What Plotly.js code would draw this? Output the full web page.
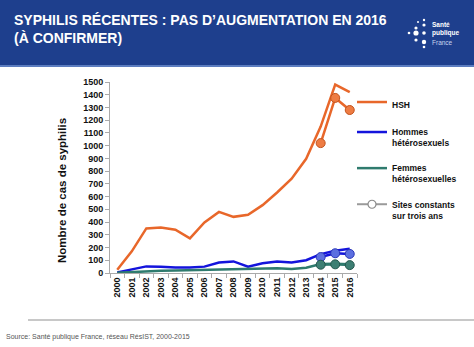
<!DOCTYPE html>
<html>
<head>
<meta charset="utf-8">
<script src="https://cdn.plot.ly/plotly-3.0.1.min.js"></script>
<style>html,body{margin:0;padding:0;background:#fff;}#chart{width:474px;height:347px;}</style>
</head>
<body>
<div id="chart"></div>
<script>
const years = ['2000','2001','2002','2003','2004','2005','2006','2007','2008','2009','2010','2011','2012','2013','2014','2015','2016'];
const hsh = [25,170,350,358,340,272,397,480,441,457,533,632,740,897,1150,1480,1420];
const hommes = [5,30,52,50,44,44,50,83,91,50,76,91,83,100,148,175,190];
const femmes = [2,8,15,17,20,22,26,30,30,30,35,38,32,42,70,72,68];
const constYears = ['2014','2015','2016'];
const hshConst = [1020,1375,1280];
const hommesConst = [125,155,150];
const femmesConst = [65,68,62];
const yTicks = [0,100,200,300,400,500,600,700,800,900,1000,1100,1200,1300,1400,1500];

const FONT = 'Arial, "Liberation Sans", Helvetica, sans-serif';
const L = 110, R = 357, T = 82, B = 273;
const px = x => (x - L) / (R - L);
const py = y => (B - y) / (B - T);

const traces = [
  {x: years, y: hsh, name: 'HSH', legendgroup: 'a', mode: 'lines',
   line: {color: '#E8672A', width: 2.5}},
  {x: constYears, y: hshConst, legendgroup: 'a', showlegend: false, mode: 'lines+markers',
   line: {color: '#E8672A', width: 2.5},
   marker: {size: 9, color: '#EE7C43', line: {color: '#C4531C', width: 1}}},
  {x: years, y: hommes, name: 'Hommes<br>hétérosexuels', legendgroup: 'b', mode: 'lines',
   line: {color: '#1414DC', width: 2.5}},
  {x: constYears, y: hommesConst, legendgroup: 'b', showlegend: false, mode: 'lines+markers',
   line: {color: '#1414DC', width: 2.5},
   marker: {size: 9, color: '#5C6FE0', line: {color: '#2A36B8', width: 1}}},
  {x: years, y: femmes, name: 'Femmes<br>hétérosexuelles', legendgroup: 'c', mode: 'lines',
   line: {color: '#2F7B6E', width: 2.5}},
  {x: constYears, y: femmesConst, legendgroup: 'c', showlegend: false, mode: 'lines+markers',
   line: {color: '#2F7B6E', width: 2.5},
   marker: {size: 9, color: '#3D7F73', line: {color: '#24574E', width: 1}}},
  {x: [null], y: [null], name: 'Sites constants<br>sur trois ans', legendgroup: 'd', mode: 'lines+markers',
   line: {color: '#9A9A9A', width: 2},
   marker: {size: 8, color: '#ffffff', line: {color: '#8A8A8A', width: 1.2}}}
];

const dots = [[424,20,1.2],[424,25,1.6],[416,28,1.6],[409,33,1.3],[416,33,2.6],[424,33,1.8],[416,40,1.6],[424,42,2.2],[424,47,1.3],[418,22,1.0]];
const shapes = [
  {type: 'rect', xref: 'paper', yref: 'paper', x0: px(0), x1: px(474), y0: py(65), y1: py(0),
   fillcolor: '#1E3F8D', line: {width: 0}, layer: 'below'},
  {type: 'line', xref: 'paper', yref: 'paper', x0: px(0), x1: px(474), y0: py(66), y1: py(66),
   line: {color: '#5C7DC0', width: 2}},
  {type: 'line', xref: 'paper', yref: 'paper', x0: px(28), x1: px(474), y0: py(320), y1: py(320),
   line: {color: '#C8C8C8', width: 2}}
];
dots.forEach(d => shapes.push({type: 'circle', xref: 'paper', yref: 'paper',
  x0: px(d[0]-d[2]), x1: px(d[0]+d[2]), y0: py(d[1]+d[2]), y1: py(d[1]-d[2]),
  fillcolor: '#ffffff', line: {width: 0}}));

const annotations = [
  {text: '<b>Nombre de cas de syphilis</b>', textangle: -90, xref: 'paper', yref: 'paper',
   x: px(62), y: py(191), showarrow: false, xanchor: 'center', yanchor: 'middle',
   font: {family: FONT, size: 11.5, color: '#111'}},
  {text: 'Source: Santé publique France, réseau RésIST, 2000-2015', xref: 'paper', yref: 'paper',
   x: px(4), y: py(337), showarrow: false, xanchor: 'left', yanchor: 'middle',
   font: {family: FONT, size: 7, color: '#555'}},
  {text: '<b>Santé</b>', xref: 'paper', yref: 'paper', x: px(430), y: py(24), showarrow: false,
   xanchor: 'left', yanchor: 'middle', font: {family: FONT, size: 6.5, color: '#fff'}},
  {text: '<b>publique</b>', xref: 'paper', yref: 'paper', x: px(430), y: py(33), showarrow: false,
   xanchor: 'left', yanchor: 'middle', font: {family: FONT, size: 6.5, color: '#fff'}},
  {text: 'France', xref: 'paper', yref: 'paper', x: px(430), y: py(42), showarrow: false,
   xanchor: 'left', yanchor: 'middle', font: {family: FONT, size: 6.5, color: '#C8D4EE'}}
];

const layout = {
  width: 474, height: 347,
  margin: {l: L, r: 474 - R, t: T, b: 347 - B, pad: 0},
  paper_bgcolor: '#ffffff', plot_bgcolor: '#ffffff',
  font: {family: FONT, color: '#111'},
  title: {text: '<b>SYPHILIS RÉCENTES : PAS D’AUGMENTATION EN 2016<br>(À CONFIRMER)</b>',
    xref: 'container', yref: 'container', x: 14/474, xanchor: 'left', y: 1 - 24.5/347, yanchor: 'middle',
    font: {family: FONT, size: 14, color: '#ffffff'}},
  showlegend: true,
  legend: {x: px(352), xanchor: 'left', y: py(90), yanchor: 'top', bgcolor: 'rgba(0,0,0,0)',
    font: {family: FONT, size: 8.5, color: '#111', weight: 'bold'}, tracegroupgap: 11,
    traceorder: 'grouped', valign: 'top'},
  xaxis: {type: 'category', categoryarray: years, categoryorder: 'array', range: [-0.5, 16.5],
    tickangle: -90, tickson: 'boundaries', ticks: 'outside', ticklen: 4, tickcolor: '#AAAAAA',
    showline: true, linecolor: '#AAAAAA', linewidth: 1, showgrid: false, zeroline: false,
    tickfont: {family: FONT, size: 9, color: '#111', weight: 'bold'}, fixedrange: true},
  yaxis: {range: [0, 1500], tickvals: yTicks, ticktext: yTicks.map(String),
    ticks: 'outside', ticklen: 4, tickcolor: '#AAAAAA',
    showline: true, linecolor: '#AAAAAA', linewidth: 1, showgrid: false, zeroline: false,
    tickfont: {family: FONT, size: 9, color: '#111', weight: 'bold'}, fixedrange: true},
  shapes: shapes,
  annotations: annotations
};

Plotly.newPlot('chart', traces, layout, {displayModeBar: false, staticPlot: true});
</script>
</body>
</html>
